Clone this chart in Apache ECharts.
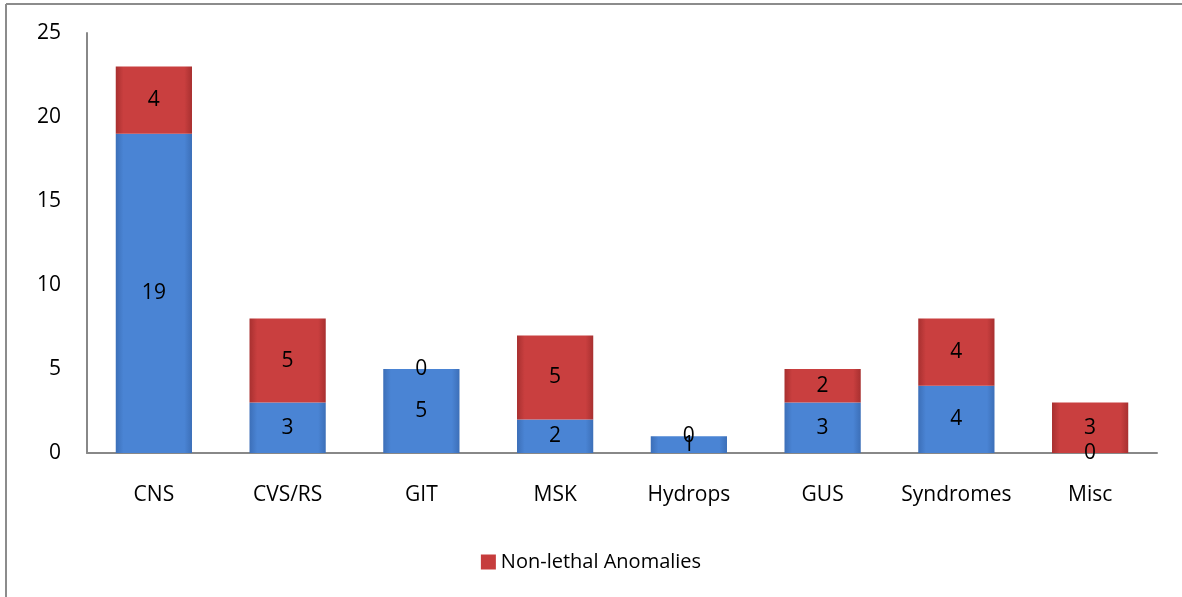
<!DOCTYPE html>
<html>
<head>
<meta charset="utf-8">
<script src="https://cdn.jsdelivr.net/npm/echarts@6/dist/echarts.min.js"></script>
<style>
html,body{margin:0;padding:0;background:#fff;}
#chart{width:1182px;height:597px;}
</style>
</head>
<body>
<div id="chart"></div>
<script>
const categories = ['CNS', 'CVS/RS', 'GIT', 'MSK', 'Hydrops', 'GUS', 'Syndromes', 'Misc'];
const lethalValues = [19, 3, 5, 2, 1, 3, 4, 0];
const nonLethalValues = [4, 5, 0, 5, 0, 2, 4, 3];
const yTicks = { min: 0, max: 25, interval: 5 };

const font = 'Open Sans';
const chart = echarts.init(document.getElementById('chart'));

function grad(left, mid, right) {
  return new echarts.graphic.LinearGradient(0, 0, 1, 0, [
    { offset: 0, color: left },
    { offset: 0.1, color: mid },
    { offset: 0.9, color: mid },
    { offset: 1, color: right }
  ]);
}

const labelStyle = {
  show: true,
  position: 'inside',
  color: '#000',
  fontFamily: font,
  fontSize: 21
};

chart.setOption({
  animation: false,
  backgroundColor: '#fff',
  graphic: [
    { type: 'line', shape: { x1: 6, y1: 4, x2: 1182, y2: 4 }, style: { stroke: '#8c8c8c', lineWidth: 2 } },
    { type: 'line', shape: { x1: 6, y1: 4, x2: 6, y2: 597 }, style: { stroke: '#8c8c8c', lineWidth: 2 } }
  ],
  grid: { left: 87, right: 25, top: 33, bottom: 144, containLabel: false },
  legend: {
    data: ['Non-lethal Anomalies'],
    bottom: 20,
    left: 'center',
    itemWidth: 15,
    itemHeight: 15,
    icon: 'rect',
    itemGap: 6,
    itemStyle: { color: '#c63c3c', borderWidth: 0 },
    textStyle: { fontFamily: font, fontSize: 20, color: '#000' }
  },
  xAxis: {
    type: 'category',
    data: categories,
    axisLine: { lineStyle: { color: '#888', width: 2 } },
    axisTick: { show: false },
    axisLabel: { color: '#000', fontFamily: font, fontSize: 21, margin: 32, interval: 0 }
  },
  yAxis: {
    type: 'value',
    min: yTicks.min,
    max: yTicks.max,
    interval: yTicks.interval,
    axisLine: { show: true, lineStyle: { color: '#888', width: 2 } },
    axisTick: { show: false },
    splitLine: { show: false },
    axisLabel: { color: '#000', fontFamily: font, fontSize: 21, margin: 26 }
  },
  series: [
    {
      name: 'Lethal Anomalies',
      type: 'bar',
      stack: 'total',
      data: lethalValues,
      barCategoryGap: '43%',
      itemStyle: {
        color: grad('#3c6fb8', '#4a84d4', '#3c6fb8'),
        borderWidth: 0
      },
      label: labelStyle
    },
    {
      name: 'Non-lethal Anomalies',
      type: 'bar',
      stack: 'total',
      data: nonLethalValues,
      barCategoryGap: '43%',
      itemStyle: {
        color: grad('#a83030', '#c93f3f', '#a83030'),
        borderWidth: 0
      },
      label: labelStyle
    }
  ]
});
</script>
</body>
</html>
